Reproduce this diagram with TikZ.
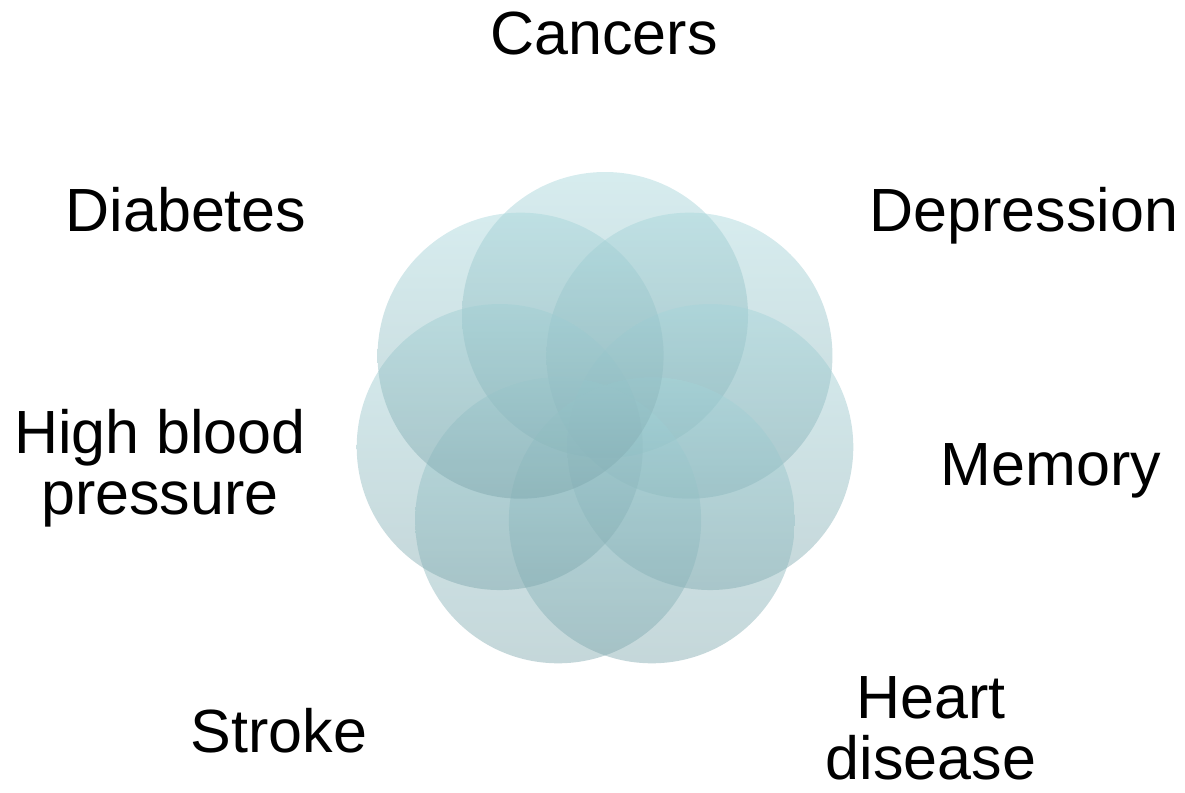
\documentclass[tikz,border=0pt]{standalone}
\usepackage{fontspec}
\setmainfont{Liberation Sans}
\usetikzlibrary{calc}
\definecolor{ctop}{RGB}{165,213,218}
\definecolor{cbot}{RGB}{125,166,172}
\tikzset{
  petal/.style={circle, inner sep=0pt, minimum size=286pt, draw=none,
    top color=ctop, bottom color=cbot, fill opacity=0.45},
  lbl/.style={font=\fontsize{61}{61}\selectfont, inner sep=0pt, align=center, text=black}
}
\begin{document}
\begin{tikzpicture}[x=1pt,y=-1pt]
\useasboundingbox (0,0) rectangle (1185,792);
\coordinate (ctr) at (605,423);
\foreach \i in {0,...,6}{
  \pgfmathsetmacro{\ang}{-90+\i*360/7}
  \node[petal] (p\i) at ($(ctr)+(\ang:108)$) {};
}
\node[lbl, anchor=base] (cancers) at (604,55) {Cancers};
\node[lbl, anchor=base] (diabetes) at (186,231) {Diabetes};
\node[lbl, anchor=base] (depression) at (1024,231) {Depression};
\node[lbl, anchor=base] (memory) at (1051,485) {Memory};
\node[lbl, anchor=base] (stroke) at (279,752) {Stroke};
\node[lbl] (hbp) at (160,468) {High blood\\pressure};
\node[lbl] (heart) at (931,728) {Heart\\disease};
\end{tikzpicture}
\end{document}
